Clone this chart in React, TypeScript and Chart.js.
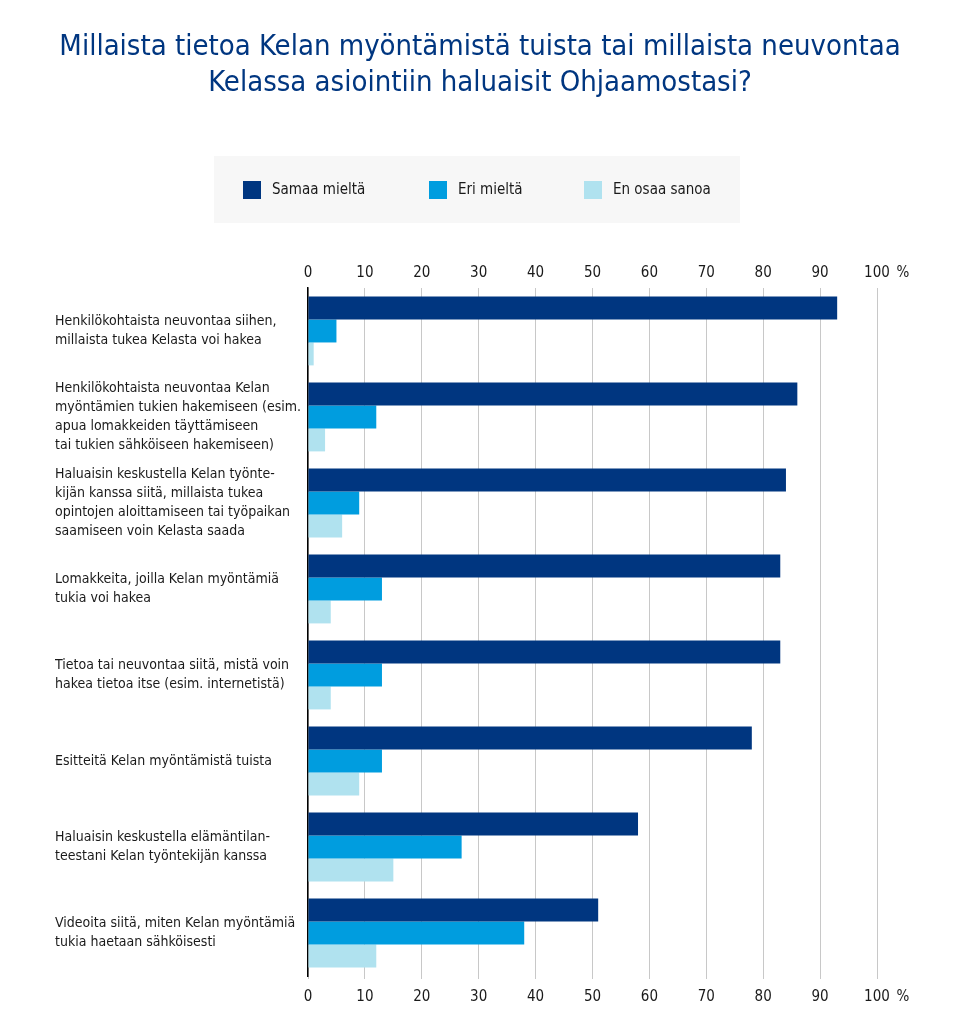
import React, { useEffect, useRef } from 'react';
import { Chart, registerables } from 'chart.js';

Chart.register(...registerables);

const TITLE_LINES = [
  'Millaista tietoa Kelan myöntämistä tuista tai millaista neuvontaa',
  'Kelassa asiointiin haluaisit Ohjaamostasi?',
];

const CATEGORIES: string[][] = [
  ['Henkilökohtaista neuvontaa siihen,', 'millaista tukea Kelasta voi hakea'],
  ['Henkilökohtaista neuvontaa Kelan', 'myöntämien tukien hakemiseen (esim.', 'apua lomakkeiden täyttämiseen', 'tai tukien sähköiseen hakemiseen)'],
  ['Haluaisin keskustella Kelan työnte-', 'kijän kanssa siitä, millaista tukea', 'opintojen aloittamiseen tai työpaikan', 'saamiseen voin Kelasta saada'],
  ['Lomakkeita, joilla Kelan myöntämiä', 'tukia voi hakea'],
  ['Tietoa tai neuvontaa siitä, mistä voin', 'hakea tietoa itse (esim. internetistä)'],
  ['Esitteitä Kelan myöntämistä tuista'],
  ['Haluaisin keskustella elämäntilan-', 'teestani Kelan työntekijän kanssa'],
  ['Videoita siitä, miten Kelan myöntämiä', 'tukia haetaan sähköisesti'],
];

const SERIES_NAMES = ['Samaa mieltä', 'Eri mieltä', 'En osaa sanoa'];
const SAMAA_MIELTA = [93, 86, 84, 83, 83, 78, 58, 51];
const ERI_MIELTA = [5, 12, 9, 13, 13, 13, 27, 38];
const EN_OSAA_SANOA = [1, 3, 6, 4, 4, 9, 15, 12];

const AXIS_MIN = 0;
const AXIS_MAX = 100;
const AXIS_STEP = 10;
const UNIT_LABEL = '%';

const COLORS = ['#003680', '#009ddf', '#b0e2ef'];
const TITLE_COLOR = '#003680';
const FONT = "'Liberation Sans Narrow', 'DejaVu Sans Condensed', 'Roboto Condensed', 'Liberation Sans', sans-serif";

const headerPlugin = {
  id: 'header',
  beforeDraw(chart: any) {
    const ctx = chart.ctx;
    ctx.save();
    // title
    ctx.fillStyle = TITLE_COLOR;
    ctx.font = `29px ${FONT}`;
    ctx.textAlign = 'center';
    ctx.textBaseline = 'middle';
    const cx = chart.width / 2;
    TITLE_LINES.forEach((line, i) => ctx.fillText(line, cx, 47 + i * 36));
    // legend box
    ctx.fillStyle = '#f7f7f7';
    ctx.fillRect(214, 156, 526, 67);
    const itemX = [243, 429, 584];
    ctx.font = `15px ${FONT}`;
    ctx.textAlign = 'left';
    chart.data.datasets.forEach((ds: any, i: number) => {
      ctx.fillStyle = ds.backgroundColor;
      ctx.fillRect(itemX[i], 181, 18, 18);
      ctx.fillStyle = '#1a1a1a';
      ctx.fillText(ds.label, itemX[i] + 29, 190);
    });
    ctx.restore();
  },
  afterDraw(chart: any) {
    const ctx = chart.ctx;
    const xs = chart.scales.x;
    const area = chart.chartArea;
    ctx.save();
    ctx.fillStyle = '#1a1a1a';
    ctx.font = `15px ${FONT}`;
    ctx.textAlign = 'center';
    ctx.textBaseline = 'middle';
    const px = xs.getPixelForValue(AXIS_MAX) + 26;
    ctx.fillText(UNIT_LABEL, px, area.top - 15);
    ctx.fillText(UNIT_LABEL, px, area.bottom + 21);
    ctx.restore();
  },
};

export default function App() {
  const ref = useRef<HTMLCanvasElement | null>(null);

  useEffect(() => {
    if (!ref.current) return;
    const tickFont = { family: FONT, size: 15 };
    const chart = new Chart(ref.current, {
      type: 'bar',
      data: {
        labels: CATEGORIES,
        datasets: [
          { label: SERIES_NAMES[0], data: SAMAA_MIELTA, backgroundColor: COLORS[0] },
          { label: SERIES_NAMES[1], data: ERI_MIELTA, backgroundColor: COLORS[1] },
          { label: SERIES_NAMES[2], data: EN_OSAA_SANOA, backgroundColor: COLORS[2] },
        ],
      },
      options: {
        indexAxis: 'y',
        animation: false,
        responsive: false,
        maintainAspectRatio: false,
        datasets: { bar: { categoryPercentage: 0.8, barPercentage: 1.0, borderWidth: 0 } },
        layout: { padding: { left: 55, right: 83, top: 258, bottom: 16 } },
        plugins: {
          legend: { display: false },
          title: { display: false },
          tooltip: { enabled: false },
        },
        scales: {
          x: {
            position: 'top',
            min: AXIS_MIN,
            max: AXIS_MAX,
            ticks: { stepSize: AXIS_STEP, color: '#1a1a1a', font: tickFont, padding: 6 },
            grid: { color: '#c8c8c8', lineWidth: 1, drawTicks: false },
            border: { display: false },
            afterFit: (s: any) => { s.height = 30; },
          },
          x2: {
            type: 'linear',
            axis: 'x',
            position: 'bottom',
            min: AXIS_MIN,
            max: AXIS_MAX,
            display: true,
            ticks: { stepSize: AXIS_STEP, color: '#1a1a1a', font: tickFont, padding: 9 },
            grid: { color: '#c8c8c8', lineWidth: 1, drawOnChartArea: false, drawTicks: true, tickLength: 3 },
            border: { display: false },
            afterFit: (s: any) => { s.height = 40; },
          },
          y: {
            ticks: {
              crossAlign: 'far',
              color: '#1a1a1a',
              autoSkip: false,
              font: { family: FONT, size: 14, lineHeight: 19 / 14 },
            },
            grid: { display: false, drawTicks: false },
            border: { display: true, color: '#000000', width: 1.5 },
            afterFit: (s: any) => { s.width = 253; },
          },
        },
      } as any,
      plugins: [headerPlugin],
    });
    return () => chart.destroy();
  }, []);

  return (
    <div style={{ position: 'absolute', left: 0, top: 0, width: 960, height: 1032, background: '#ffffff' }}>
      <canvas ref={ref} width={960} height={1032} style={{ display: 'block', width: 960, height: 1032 }} />
    </div>
  );
}
